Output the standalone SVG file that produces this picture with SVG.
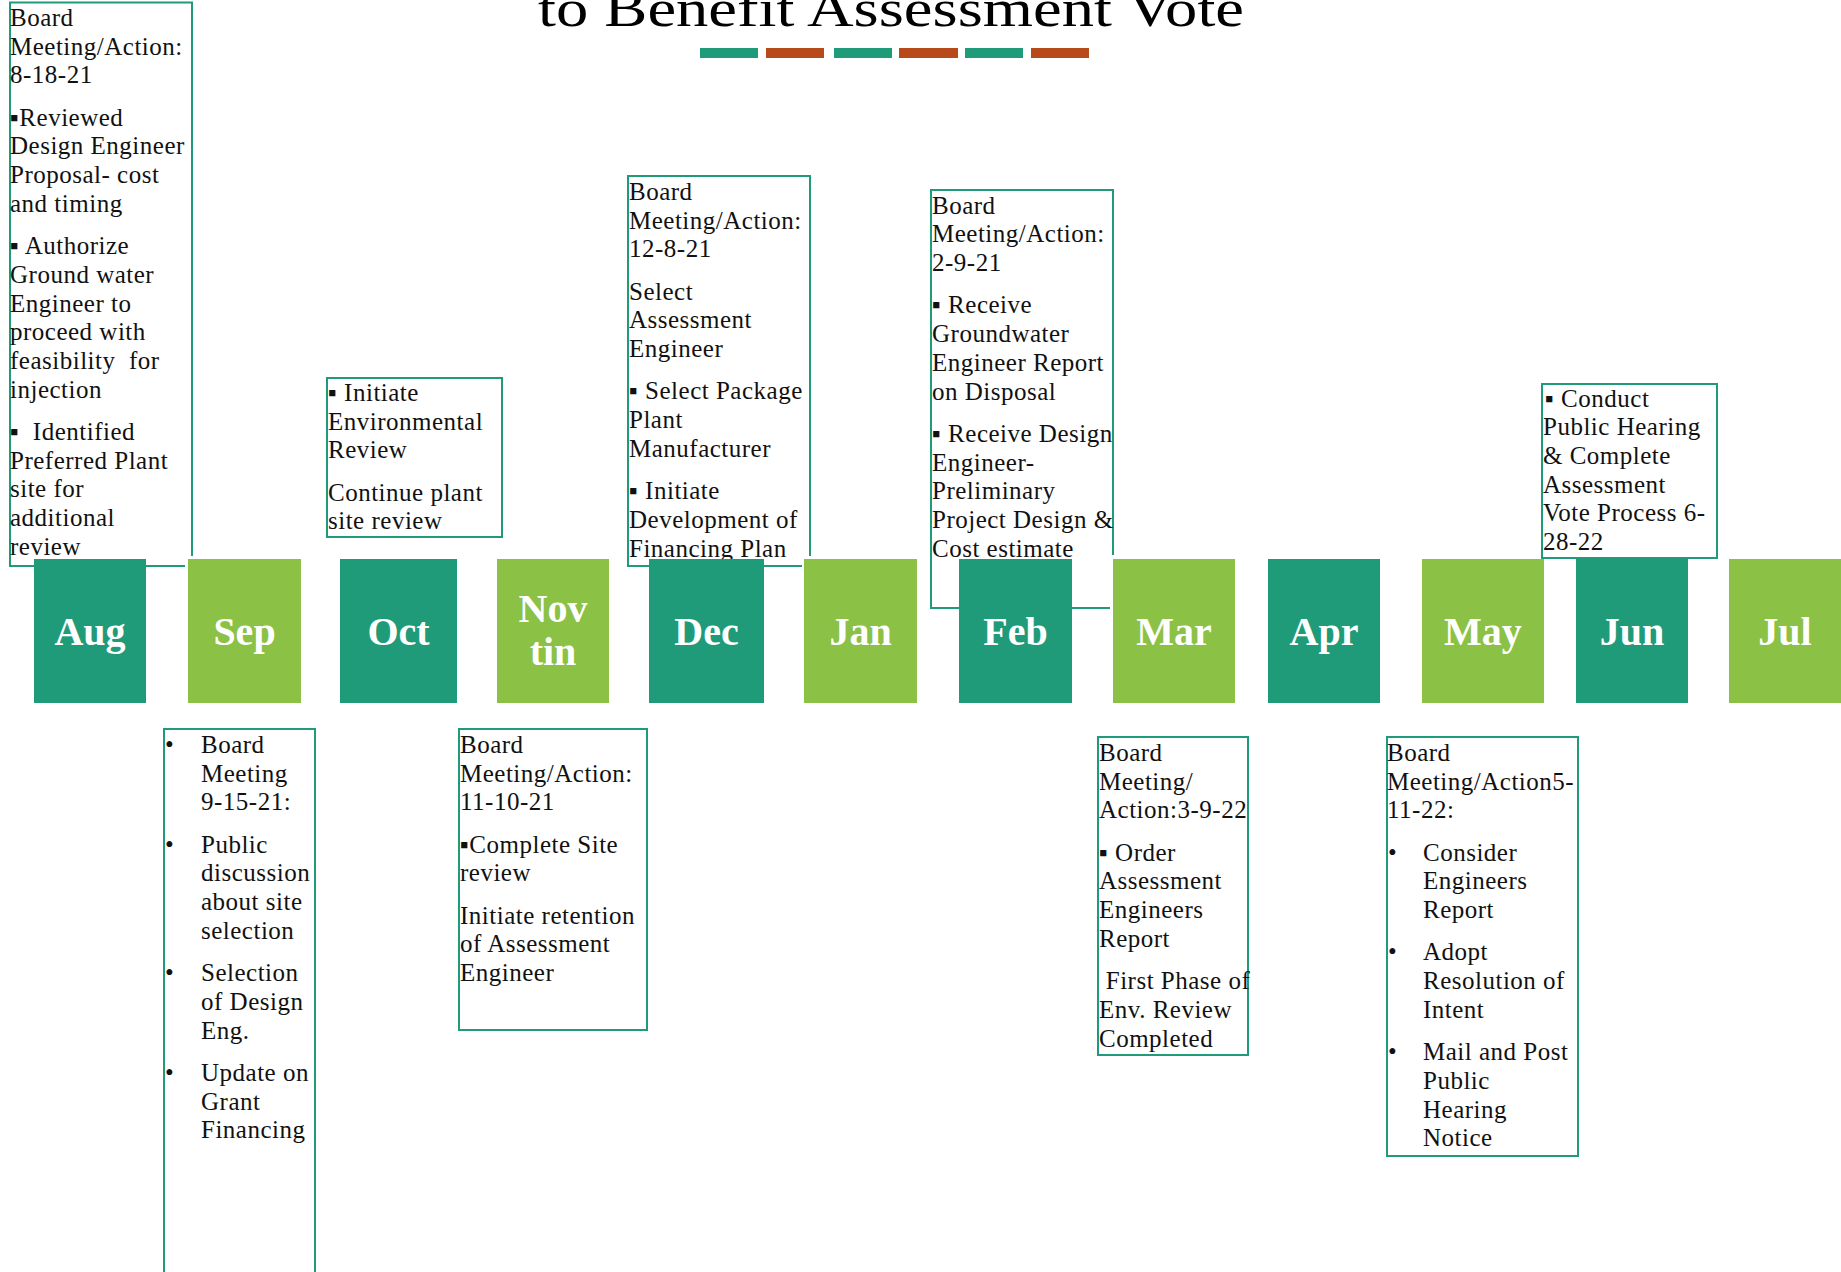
<svg xmlns="http://www.w3.org/2000/svg" width="1841" height="1272" viewBox="0 0 1841 1272">
  <style>
    .note { fill: none; stroke: #1f9b7a; stroke-width: 2; }
    .txt { font-family: "Liberation Serif", "DejaVu Serif", serif; font-size: 25px; letter-spacing: 0.5px; fill: #111; white-space: pre; }
    .mon { font-family: "Liberation Serif", "DejaVu Serif", serif; font-size: 40px; font-weight: bold; fill: #ffffff; text-anchor: middle; }
    .teal { fill: #1f9b7a; }
    .green { fill: #8bc145; }
    .rust { fill: #b7491a; }
    .title { font-family: "Liberation Serif", "Times New Roman", serif; font-size: 52px; fill: #000; }
  </style>

  <!-- heading and accent bar -->
  <g id="title">
    <text class="title" x="538" y="26" textLength="706" lengthAdjust="spacingAndGlyphs">to Benefit Assessment Vote</text>
  </g>
  <g id="accent-bar">
    <rect class="teal" x="700" y="48" width="58" height="10"/>
    <rect class="rust" x="766" y="48" width="58" height="10"/>
    <rect class="teal" x="834" y="48" width="58" height="10"/>
    <rect class="rust" x="899" y="48" width="59" height="10"/>
    <rect class="teal" x="965" y="48" width="58" height="10"/>
    <rect class="rust" x="1031" y="48" width="58" height="10"/>
  </g>

  <!-- notes above the timeline -->
  <g id="note-aug">
    <path class="note" d="M185,566 H10 V2.5 H192 V556"/>
    <text class="txt">
      <tspan x="10" y="26">Board</tspan>
      <tspan x="10" y="54.7">Meeting/Action:</tspan>
      <tspan x="10" y="83.4">8-18-21</tspan>
      <tspan x="10" y="125.7">▪Reviewed</tspan>
      <tspan x="10" y="154.4">Design Engineer</tspan>
      <tspan x="10" y="183.1">Proposal- cost</tspan>
      <tspan x="10" y="211.8">and timing</tspan>
      <tspan x="10" y="254.1">▪ Authorize</tspan>
      <tspan x="10" y="282.8">Ground water</tspan>
      <tspan x="10" y="311.5">Engineer to</tspan>
      <tspan x="10" y="340.2">proceed with</tspan>
      <tspan x="10" y="368.9">feasibility  for</tspan>
      <tspan x="10" y="397.6">injection</tspan>
      <tspan x="10" y="439.9">▪  Identified</tspan>
      <tspan x="10" y="468.6">Preferred Plant</tspan>
      <tspan x="10" y="497.3">site for</tspan>
      <tspan x="10" y="526">additional</tspan>
      <tspan x="10" y="554.7">review</tspan>
    </text>
  </g>

  <g id="note-oct">
    <rect class="note" x="327" y="378" width="175" height="159"/>
    <text class="txt">
      <tspan x="328" y="401">▪ Initiate</tspan>
      <tspan x="328" y="429.7">Environmental</tspan>
      <tspan x="328" y="458.4">Review</tspan>
      <tspan x="328" y="500.7">Continue plant</tspan>
      <tspan x="328" y="529.4">site review</tspan>
    </text>
  </g>

  <g id="note-dec">
    <path class="note" d="M802,566 H628 V176 H810 V556"/>
    <text class="txt">
      <tspan x="629" y="200">Board</tspan>
      <tspan x="629" y="228.7">Meeting/Action:</tspan>
      <tspan x="629" y="257.4">12-8-21</tspan>
      <tspan x="629" y="299.7">Select</tspan>
      <tspan x="629" y="328.4">Assessment</tspan>
      <tspan x="629" y="357.1">Engineer</tspan>
      <tspan x="629" y="399.4">▪ Select Package</tspan>
      <tspan x="629" y="428.1">Plant</tspan>
      <tspan x="629" y="456.8">Manufacturer</tspan>
      <tspan x="629" y="499.1">▪ Initiate</tspan>
      <tspan x="629" y="527.8">Development of</tspan>
      <tspan x="629" y="556.5">Financing Plan</tspan>
    </text>
  </g>

  <g id="note-feb">
    <path class="note" d="M1110,608 H931 V190 H1113 V555"/>
    <text class="txt">
      <tspan x="932" y="213.7">Board</tspan>
      <tspan x="932" y="242.4">Meeting/Action:</tspan>
      <tspan x="932" y="271.1">2-9-21</tspan>
      <tspan x="932" y="313.4">▪ Receive</tspan>
      <tspan x="932" y="342.1">Groundwater</tspan>
      <tspan x="932" y="370.8">Engineer Report</tspan>
      <tspan x="932" y="399.5">on Disposal</tspan>
      <tspan x="932" y="441.8">▪ Receive Design</tspan>
      <tspan x="932" y="470.5">Engineer-</tspan>
      <tspan x="932" y="499.2">Preliminary</tspan>
      <tspan x="932" y="527.9">Project Design &amp;</tspan>
      <tspan x="932" y="556.6">Cost estimate</tspan>
    </text>
  </g>

  <g id="note-jun">
    <rect class="note" x="1542" y="384" width="175" height="174"/>
    <text class="txt">
      <tspan x="1545" y="406.5">▪ Conduct</tspan>
      <tspan x="1543" y="435.2">Public Hearing</tspan>
      <tspan x="1543" y="463.9">&amp; Complete</tspan>
      <tspan x="1543" y="492.6">Assessment</tspan>
      <tspan x="1543" y="521.3">Vote Process 6-</tspan>
      <tspan x="1543" y="550">28-22</tspan>
    </text>
  </g>

  <!-- month blocks -->
  <g id="months">
    <g id="m-aug"><rect class="teal" x="34" y="559" width="112" height="144"/><text class="mon" x="90" y="645">Aug</text></g>
    <g id="m-sep"><rect class="green" x="188" y="559" width="113" height="144"/><text class="mon" x="244.5" y="645">Sep</text></g>
    <g id="m-oct"><rect class="teal" x="340" y="559" width="117" height="144"/><text class="mon" x="398.5" y="645">Oct</text></g>
    <g id="m-nov"><rect class="green" x="497" y="559" width="112" height="144"/><text class="mon" x="553" y="622">Nov</text><text class="mon" x="553" y="665">tin</text></g>
    <g id="m-dec"><rect class="teal" x="649" y="559" width="115" height="144"/><text class="mon" x="706.5" y="645">Dec</text></g>
    <g id="m-jan"><rect class="green" x="804" y="559" width="113" height="144"/><text class="mon" x="860.5" y="645">Jan</text></g>
    <g id="m-feb"><rect class="teal" x="959" y="559" width="113" height="144"/><text class="mon" x="1015.5" y="645">Feb</text></g>
    <g id="m-mar"><rect class="green" x="1113" y="559" width="122" height="144"/><text class="mon" x="1174" y="645">Mar</text></g>
    <g id="m-apr"><rect class="teal" x="1268" y="559" width="112" height="144"/><text class="mon" x="1324" y="645">Apr</text></g>
    <g id="m-may"><rect class="green" x="1422" y="559" width="122" height="144"/><text class="mon" x="1483" y="645">May</text></g>
    <g id="m-jun"><rect class="teal" x="1576" y="559" width="112" height="144"/><text class="mon" x="1632" y="645">Jun</text></g>
    <g id="m-jul"><rect class="green" x="1729" y="559" width="112" height="144"/><text class="mon" x="1785" y="645">Jul</text></g>
  </g>

  <!-- notes below the timeline -->
  <g id="note-sep">
    <rect class="note" x="164" y="729" width="151" height="560"/>
    <text class="txt">
      <tspan x="165" y="753">•</tspan><tspan x="201" y="753">Board</tspan>
      <tspan x="201" y="781.7">Meeting</tspan>
      <tspan x="201" y="810.4">9-15-21:</tspan>
      <tspan x="165" y="852.7">•</tspan><tspan x="201" y="852.7">Public</tspan>
      <tspan x="201" y="881.4">discussion</tspan>
      <tspan x="201" y="910.1">about site</tspan>
      <tspan x="201" y="938.8">selection</tspan>
      <tspan x="165" y="981.1">•</tspan><tspan x="201" y="981.1">Selection</tspan>
      <tspan x="201" y="1009.8">of Design</tspan>
      <tspan x="201" y="1038.5">Eng.</tspan>
      <tspan x="165" y="1080.8">•</tspan><tspan x="201" y="1080.8">Update on</tspan>
      <tspan x="201" y="1109.5">Grant</tspan>
      <tspan x="201" y="1138.2">Financing</tspan>
    </text>
  </g>

  <g id="note-nov">
    <rect class="note" x="459" y="729" width="188" height="301"/>
    <text class="txt">
      <tspan x="460" y="753">Board</tspan>
      <tspan x="460" y="781.7">Meeting/Action:</tspan>
      <tspan x="460" y="810.4">11-10-21</tspan>
      <tspan x="460" y="852.7">▪Complete Site</tspan>
      <tspan x="460" y="881.4">review</tspan>
      <tspan x="460" y="923.7">Initiate retention</tspan>
      <tspan x="460" y="952.4">of Assessment</tspan>
      <tspan x="460" y="981.1">Engineer</tspan>
    </text>
  </g>

  <g id="note-mar">
    <rect class="note" x="1098" y="737" width="150" height="318"/>
    <text class="txt">
      <tspan x="1099" y="761">Board</tspan>
      <tspan x="1099" y="789.7">Meeting/</tspan>
      <tspan x="1099" y="818.4">Action:3-9-22</tspan>
      <tspan x="1099" y="860.7">▪ Order</tspan>
      <tspan x="1099" y="889.4">Assessment</tspan>
      <tspan x="1099" y="918.1">Engineers</tspan>
      <tspan x="1099" y="946.8">Report</tspan>
      <tspan x="1099" y="989.1"> First Phase of</tspan>
      <tspan x="1099" y="1017.8">Env. Review</tspan>
      <tspan x="1099" y="1046.5">Completed</tspan>
    </text>
  </g>

  <g id="note-may">
    <rect class="note" x="1387" y="737" width="191" height="419"/>
    <text class="txt">
      <tspan x="1387" y="761">Board</tspan>
      <tspan x="1387" y="789.7">Meeting/Action5-</tspan>
      <tspan x="1387" y="818.4">11-22:</tspan>
      <tspan x="1388" y="860.7">•</tspan><tspan x="1423" y="860.7">Consider</tspan>
      <tspan x="1423" y="889.4">Engineers</tspan>
      <tspan x="1423" y="918.1">Report</tspan>
      <tspan x="1388" y="960.4">•</tspan><tspan x="1423" y="960.4">Adopt</tspan>
      <tspan x="1423" y="989.1">Resolution of</tspan>
      <tspan x="1423" y="1017.8">Intent</tspan>
      <tspan x="1388" y="1060.1">•</tspan><tspan x="1423" y="1060.1">Mail and Post</tspan>
      <tspan x="1423" y="1088.8">Public</tspan>
      <tspan x="1423" y="1117.5">Hearing</tspan>
      <tspan x="1423" y="1146.2">Notice</tspan>
    </text>
  </g>
</svg>
